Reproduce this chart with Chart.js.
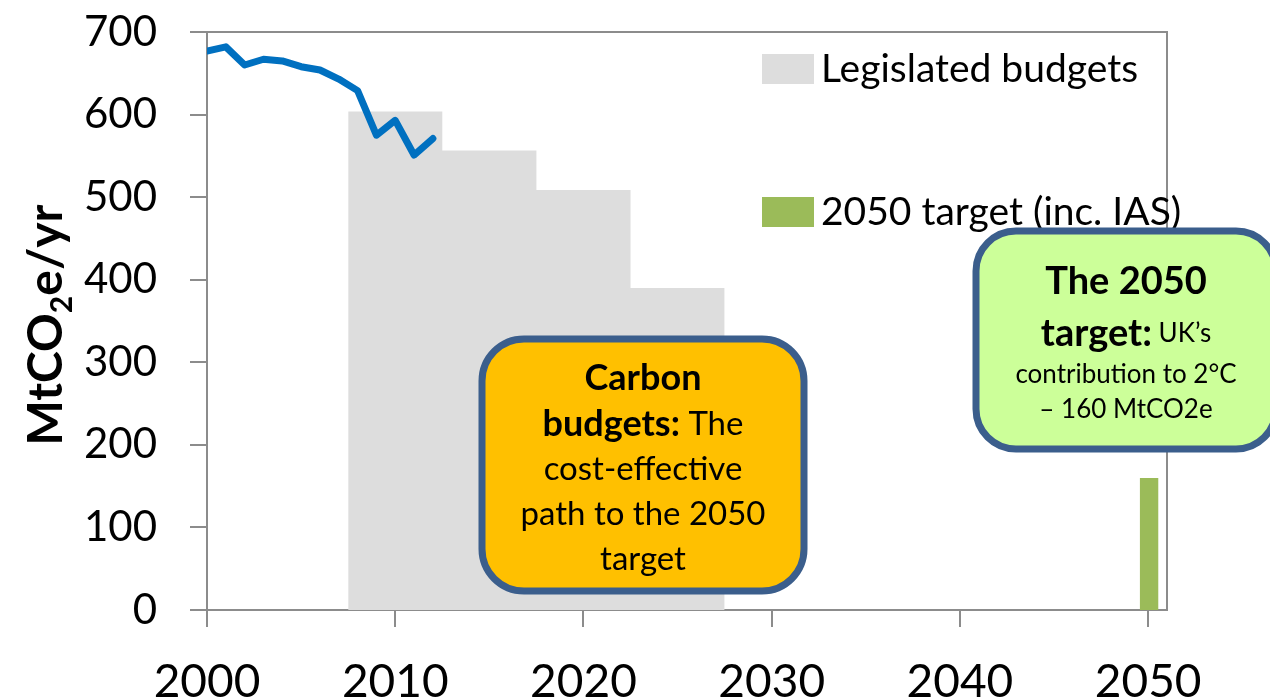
<!DOCTYPE html>
<html>
<head>
<meta charset="utf-8">
<script src="https://cdn.jsdelivr.net/npm/chart.js@4.4.0/dist/chart.umd.min.js"></script>
<style>
  body { margin: 0; background: #fff; }
  #chart { display: block; }
</style>
</head>
<body>
<canvas id="chart" width="1270" height="700"></canvas>
<script>
// historic emissions (MtCO2e/yr)
var years = [2000, 2001, 2002, 2003, 2004, 2005, 2006, 2007, 2008, 2009, 2010, 2011, 2012];
var emissions = [677, 682, 660, 667, 665, 658, 654, 643, 629, 575, 593, 551, 571];

// legislated carbon budgets, 5 year periods (annual average)
var budgetStart = [2008, 2013, 2018, 2023];
var budgetLevels = [603.6, 556.4, 508.8, 390];

// 2050 target
var targetYears = [2050];
var targetLevels = [160];

var xTicks = [2000, 2010, 2020, 2030, 2040, 2050];
var yTicks = [0, 100, 200, 300, 400, 500, 600, 700];

var FONT = 'Lato';
var AXIS_GREY = '#8c8c8c';

// steps for the budget periods
var budgetPoints = [];
for (var i = 0; i < budgetStart.length; i++) {
  budgetPoints.push({x: budgetStart[i] - 0.5, y: budgetLevels[i]});
  budgetPoints.push({x: budgetStart[i] + 4.5, y: budgetLevels[i]});
}
var targetPoints = [];
for (var j = 0; j < targetYears.length; j++) {
  targetPoints.push({x: targetYears[j] - 0.45, y: targetLevels[j]});
  targetPoints.push({x: targetYears[j] + 0.55, y: targetLevels[j]});
}
var linePoints = [];
for (var k = 0; k < years.length; k++) {
  linePoints.push({x: years[k], y: emissions[k]});
}

function roundBox(ctx, x, y, w, h, r, fill) {
  ctx.beginPath();
  ctx.moveTo(x + r, y);
  ctx.arcTo(x + w, y, x + w, y + h, r);
  ctx.arcTo(x + w, y + h, x, y + h, r);
  ctx.arcTo(x, y + h, x, y, r);
  ctx.arcTo(x, y, x + w, y, r);
  ctx.closePath();
  ctx.fillStyle = fill;
  ctx.fill();
  ctx.lineWidth = 7;
  ctx.strokeStyle = '#3b5e8c';
  ctx.stroke();
}

// one line of text made of runs [text, font], centred on cx
function mixedLine(ctx, runs, cx, cy) {
  var total = 0;
  for (var i = 0; i < runs.length; i++) {
    ctx.font = runs[i][1];
    total += ctx.measureText(runs[i][0]).width;
  }
  var x = cx - total / 2;
  ctx.textAlign = 'left';
  ctx.textBaseline = 'middle';
  ctx.fillStyle = '#000';
  for (var j = 0; j < runs.length; j++) {
    ctx.font = runs[j][1];
    ctx.fillText(runs[j][0], x, cy);
    x += ctx.measureText(runs[j][0]).width;
  }
}

var extras = {
  id: 'extras',
  afterDraw: function(chart) {
    var ctx = chart.ctx;
    var a = chart.chartArea;
    ctx.save();

    // frame on top and right
    ctx.strokeStyle = AXIS_GREY;
    ctx.lineWidth = 2;
    ctx.beginPath();
    ctx.moveTo(a.left, a.top);
    ctx.lineTo(a.right, a.top);
    ctx.lineTo(a.right, a.bottom);
    ctx.stroke();

    // legend
    ctx.fillStyle = '#dddddd';
    ctx.fillRect(762, 54, 52, 30);
    ctx.fillStyle = '#9bbb59';
    ctx.fillRect(762, 197, 52, 30);
    ctx.fillStyle = '#000';
    ctx.font = '39px ' + FONT;
    ctx.textAlign = 'left';
    ctx.textBaseline = 'middle';
    ctx.fillText('Legislated budgets', 821, 69);
    ctx.fillText('2050 target (inc. IAS)', 821, 212);

    // y axis title with subscript
    ctx.save();
    ctx.translate(45, 325);
    ctx.rotate(-Math.PI / 2);
    var big = 'bold 48px ' + FONT;
    var small = 'bold 30px ' + FONT;
    ctx.font = big;
    var w1 = ctx.measureText('MtCO').width;
    var w3 = ctx.measureText('e/yr').width;
    ctx.font = small;
    var w2 = ctx.measureText('2').width;
    var x = -(w1 + w2 + w3) / 2;
    ctx.textAlign = 'left';
    ctx.textBaseline = 'alphabetic';
    ctx.fillStyle = '#000';
    ctx.font = big;
    ctx.fillText('MtCO', x, 17);
    ctx.font = small;
    ctx.fillText('2', x + w1, 27);
    ctx.font = big;
    ctx.fillText('e/yr', x + w1 + w2, 17);
    ctx.restore();

    // carbon budgets box
    roundBox(ctx, 482, 339, 322, 252, 42, '#ffc000');
    var b = 'bold 36px ' + FONT;
    var r = '33px ' + FONT;
    mixedLine(ctx, [['Carbon', b]], 643, 378);
    mixedLine(ctx, [['budgets:', b], [' The', r]], 643, 424);
    mixedLine(ctx, [['cost-effective', r]], 643, 469);
    mixedLine(ctx, [['path to the 2050', r]], 643, 514);
    mixedLine(ctx, [['target', r]], 643, 559);

    // 2050 target box
    roundBox(ctx, 976, 231, 300, 218, 40, '#ccff99');
    var gb = 'bold 38px ' + FONT;
    var gr = '26px ' + FONT;
    mixedLine(ctx, [['The 2050', gb]], 1126, 282);
    mixedLine(ctx, [['target:', gb], [' UK\u2019s', gr]], 1126, 334);
    mixedLine(ctx, [['contribution to 2\u00b0C', gr]], 1126, 375);
    mixedLine(ctx, [['\u2013 160 MtCO2e', gr]], 1126, 410);

    ctx.restore();
  }
};

function draw() {
  new Chart(document.getElementById('chart'), {
    type: 'line',
    data: {
      datasets: [
        {
          label: 'Emissions',
          data: linePoints,
          borderColor: '#0070c0',
          borderWidth: 7,
          pointRadius: 0,
          tension: 0,
          borderJoinStyle: 'round',
          borderCapStyle: 'round',
          fill: false
        },
        {
          label: 'Legislated budgets',
          data: budgetPoints,
          borderWidth: 0,
          borderColor: 'rgba(0,0,0,0)',
          backgroundColor: '#dddddd',
          pointRadius: 0,
          tension: 0,
          fill: 'origin'
        },
        {
          label: '2050 target (inc. IAS)',
          data: targetPoints,
          borderWidth: 0,
          borderColor: 'rgba(0,0,0,0)',
          backgroundColor: '#9bbb59',
          pointRadius: 0,
          tension: 0,
          fill: 'origin'
        }
      ]
    },
    options: {
      responsive: false,
      devicePixelRatio: 1,
      animation: false,
      layout: { padding: { top: 32, right: 103, left: 0, bottom: 0 } },
      plugins: {
        legend: { display: false },
        tooltip: { enabled: false }
      },
      scales: {
        x: {
          type: 'linear',
          min: 2000,
          max: 2051,
          afterBuildTicks: function(scale) {
            scale.ticks = xTicks.map(function(v) { return {value: v}; });
          },
          afterFit: function(scale) { scale.height = 90; },
          ticks: {
            font: { family: FONT, size: 46 },
            color: '#000',
            padding: 28,
            maxRotation: 0,
            callback: function(v) { return String(v); }
          },
          grid: { drawOnChartArea: false, tickLength: 17, color: AXIS_GREY, lineWidth: 2 },
          border: { color: AXIS_GREY, width: 2 }
        },
        y: {
          min: 0,
          max: 700,
          afterBuildTicks: function(scale) {
            scale.ticks = yTicks.map(function(v) { return {value: v}; });
          },
          afterFit: function(scale) {
            scale.width = 207;
            scale.paddingTop = 0;
            scale.paddingBottom = 0;
          },
          ticks: {
            font: { family: FONT, size: 42 },
            color: '#000',
            padding: 33
          },
          grid: { drawOnChartArea: false, tickLength: 17, color: AXIS_GREY, lineWidth: 2 },
          border: { color: AXIS_GREY, width: 2 }
        }
      }
    },
    plugins: [extras]
  });
}

Promise.all([
  document.fonts.load('42px ' + FONT),
  document.fonts.load('bold 42px ' + FONT)
]).then(draw, draw);
</script>
</body>
</html>
